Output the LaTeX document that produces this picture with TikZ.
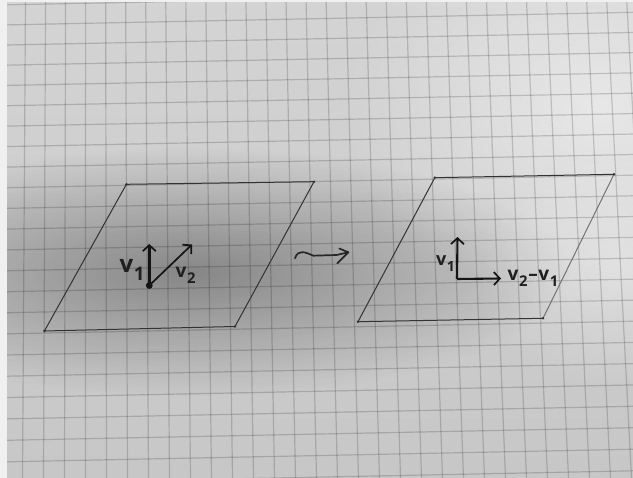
\documentclass[tikz,border=0pt]{standalone}
\usepackage{fontspec}
\setmainfont{Open Sans}
\usetikzlibrary{arrows.meta,fadings}
\tikzfading[name=softspot, inner color=transparent!0, outer color=transparent!100]
\newcommand\vlab[1]{v\kern0.5pt\raisebox{-0.32em}{\scalebox{0.78}{#1}}}
\begin{document}
\begin{tikzpicture}[x=1pt,y=-1pt,
  pen/.style={draw=black!80, line width=1.0pt, line cap=round, line join=round},
  vec/.style={draw=black!92, line width=2.4pt, -{Straight Barb[length=6pt,width=13pt,line width=1.7pt]}},
  lab/.style={anchor=base west, inner sep=0pt, text=black!88},
  gridline/.style={draw=black, opacity=0.17, line width=1.2pt}]
\useasboundingbox (0,0) rectangle (633,478);
% paper
\shade[top color=black!17, middle color=black!26, bottom color=black!22] (0,0) rectangle (633,478);
\fill[black, opacity=0.34, path fading=softspot] (190,272) ellipse [x radius=380, y radius=125];
\fill[white, opacity=0.5, path fading=softspot] (600,110) ellipse [x radius=260, y radius=200];
\fill[white, opacity=0.35, path fading=softspot] (620,270) ellipse [x radius=150, y radius=120];
% grid
\foreach \k in {-1,...,31}{
  \draw[gridline] ({25.5+20.04*\k},0) -- ({22.5+21.0*\k},478);
}
\foreach \j in {0,...,24}{
  \draw[gridline] (0,{5+20.0*\j+0.035*\j*\j}) -- (633,{-7.7+20.0*\j+0.035*\j*\j});
}
% page edges
\fill[black!6] (0,0) rectangle (7,478);
\fill[black!6] (0,0) rectangle (633,2);
% left parallelogram
\coordinate (A1) at (126.4,184.3);
\coordinate (A2) at (314,181.7);
\coordinate (A3) at (235,326.5);
\coordinate (A4) at (44.4,331);
\draw[pen] (A1) -- (A2) -- (A3) -- (A4) -- cycle;
\foreach \c in {A1,A2,A3,A4} \fill[black!80] (\c) circle (1.4);
% left vectors
\coordinate (O1) at (149.3,285.5);
\coordinate (P1) at (149.3,244);
\coordinate (Q1) at (192,244.5);
\draw[vec, line width=2.6pt] (O1) -- (P1);
\draw[vec, line width=1.7pt] (O1) -- (Q1);
\fill[black!92] (O1) circle (3.4);
\node[lab, font=\bfseries\fontsize{24}{24}\selectfont] (lv1) at (119.5,273) {\vlab{1}};
\node[lab, font=\bfseries\fontsize{19}{19}\selectfont] (lv2) at (175.5,277.5) {\vlab{2}};
% squiggle arrow
\coordinate (S0) at (295,258.3);
\coordinate (S1) at (313.3,255.7);
\coordinate (S2) at (336.7,255);
\coordinate (S3) at (348.3,252.3);
\coordinate (H1) at (339.3,248.5);
\coordinate (H2) at (337.3,263.3);
\draw[draw=black!85, line width=1.7pt, line cap=round, line join=round]
  (S0) .. controls (298,249) and (305,252) .. (S1) -- (S2) -- (S3);
\draw[draw=black!85, line width=1.7pt, line cap=round, line join=round] (H1) -- (S3) -- (H2);
% right parallelogram
\coordinate (B1) at (434.8,177.7);
\coordinate (B2) at (614,174.3);
\coordinate (B3) at (543,318.3);
\coordinate (B4) at (358,321.7);
\draw[pen] (B1) -- (B2);
\draw[pen, draw=black!55] (B2) -- (B3);
\draw[pen] (B3) -- (B4) -- (B1);
\foreach \c in {B1,B2,B3,B4} \fill[black!80] (\c) circle (1.4);
% right vectors
\coordinate (O2) at (457,279);
\coordinate (P2) at (457.5,237);
\coordinate (Q2) at (501,278.5);
\draw[vec, line width=2.1pt] (O2) -- (P2);
\draw[vec, line width=2.1pt] (O2) -- (Q2);
\node[lab, font=\bfseries\fontsize{18}{18}\selectfont] (rv1) at (436,266) {\vlab{1}};
\node[lab, font=\bfseries\fontsize{19}{19}\selectfont] (rv21) at (507.5,280.5) {\vlab{2}\kern1pt--\kern0.5pt\vlab{1}};
\end{tikzpicture}
\end{document}
